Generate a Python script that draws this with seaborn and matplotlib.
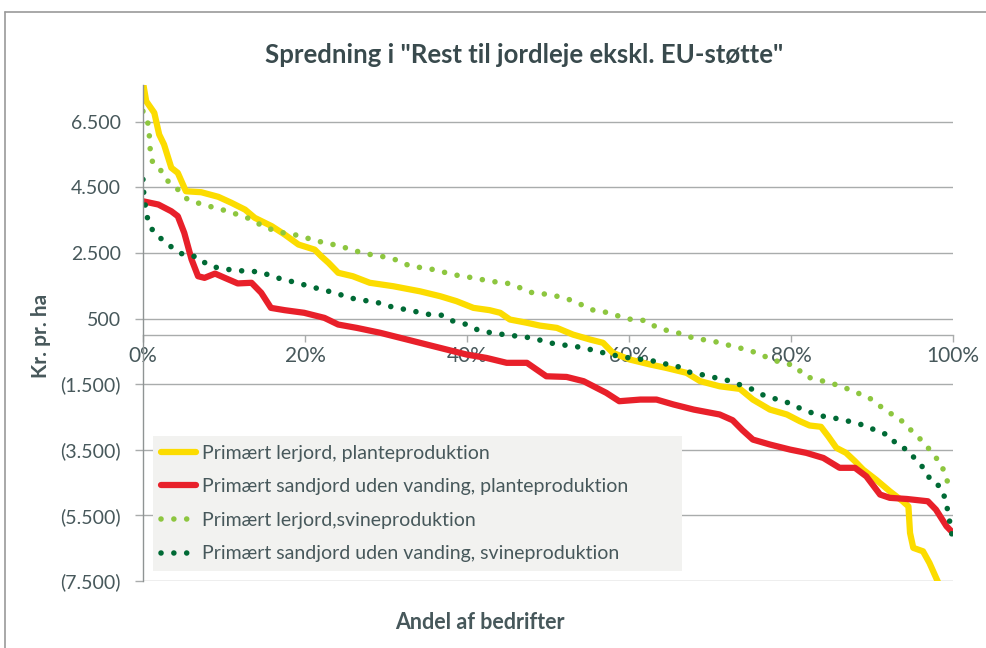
import matplotlib
matplotlib.use("Agg")
import matplotlib.pyplot as plt
import matplotlib.ticker as mticker
from matplotlib.lines import Line2D
import seaborn as sns

# values (x = share of farms in %, y = kr. pr. ha)
ler_plante_x = [0, 0.4, 1.4, 2.0, 2.6, 3.5, 4.3, 5.3, 7.2, 9.3, 10.9, 12.6, 13.8, 15.9, 17.5,
                19.2, 21.2, 22.0, 22.9, 24.1, 25.9, 28.0, 30.9, 32.6, 34.2, 36.7, 38.7, 40.8,
                42.8, 44.1, 45.3, 47.4, 49.0, 51.1, 53.1, 55.2, 56.8, 58.0, 60.1, 62.6, 64.6,
                67.1, 68.8, 71.2, 73.7, 75.3, 77.4, 79.5, 81.1, 82.3, 83.7, 84.6, 85.6, 86.8,
                87.9, 88.9, 90.5, 92.2, 93.8, 94.5, 94.7, 95.1, 96.3, 97.1, 98.2, 98.6]
ler_plante_y = [7700, 7125, 6770, 6110, 5805, 5095, 4940, 4380, 4350, 4210, 4030, 3820, 3570,
                3315, 3060, 2755, 2600, 2400, 2200, 1895, 1790, 1590, 1485, 1405, 1330, 1180,
                1030, 825, 755, 675, 470, 370, 285, 215, 10, -140, -240, -545, -750, -900,
                -1005, -1155, -1410, -1565, -1645, -1970, -2275, -2425, -2630, -2760, -2800,
                -3090, -3440, -3595, -3850, -4105, -4410, -4765, -5070, -5225, -6035, -6490,
                -6595, -6950, -7560, -7800]

sand_plante_x = [0, 1.9, 3.5, 4.3, 5.1, 6.0, 6.8, 7.6, 8.9, 10.1, 11.7, 13.4, 14.6, 15.8, 17.5,
                 19.9, 22.4, 24.1, 26.4, 29.3, 32.6, 35.0, 37.5, 40.0, 42.4, 44.9, 47.4, 48.6,
                 49.8, 52.3, 54.4, 57.2, 58.8, 61.4, 63.4, 65.5, 68.0, 71.2, 72.8, 74.0, 75.3,
                 77.4, 79.9, 81.9, 84.0, 86.0, 87.9, 89.3, 91.0, 92.2, 94.3, 96.9, 97.9, 99.2,
                 100]
sand_plante_y = [4075, 3975, 3770, 3620, 3110, 2300, 1790, 1740, 1870, 1740, 1570, 1590, 1285,
                 825, 755, 675, 520, 317, 215, 65, -140, -290, -445, -600, -700, -850, -850,
                 -1055, -1260, -1280, -1410, -1765, -2020, -1970, -1970, -2120, -2275, -2425,
                 -2600, -2900, -3190, -3340, -3495, -3595, -3750, -4050, -4050, -4310, -4865,
                 -4965, -5000, -5070, -5325, -5830, -6035]

ler_svin_x = [0, 0.6, 0.8, 0.9, 1.2, 2.3, 3.1, 4.3, 5.5, 7.0, 8.6, 10.1, 11.7, 13.2, 14.6, 16.1,
              17.7, 19.3, 20.8, 22.4, 24.1, 26.4, 28.1, 29.8, 31.4, 33.0, 34.6, 36.3, 37.9,
              39.4, 41.1, 42.8, 44.8, 46.3, 47.8, 49.4, 51.1, 52.6, 54.1, 55.6, 57.2, 58.8,
              60.3, 62.0, 63.4, 65.0, 66.5, 68.1, 69.7, 71.3, 72.9, 74.5, 76.1, 77.6, 79.0,
              80.5, 81.7, 83.2, 84.8, 86.4, 87.9, 89.4, 90.6, 91.8, 93.3, 94.4, 95.5, 96.6,
              97.5, 98.6, 99.0, 99.7, 100]
ler_svin_y = [6820, 6465, 6040, 5630, 5245, 4990, 4685, 4435, 4130, 4005, 3895, 3795, 3670,
              3540, 3345, 3190, 3090, 3030, 2910, 2810, 2725, 2550, 2450, 2380, 2280, 2095,
              2045, 1975, 1860, 1790, 1730, 1635, 1590, 1465, 1300, 1255, 1180, 1080, 925, 755,
              690, 570, 470, 440, 235, 115, 35, -110, -160, -240, -355, -445, -575, -750,
              -850, -935, -1260, -1360, -1460, -1580, -1745, -1870, -2090, -2325, -2530,
              -2800, -3070, -3320, -3645, -3920, -4310, -4645, -4700]

sand_svin_x = [0, 0.1, 0.3, 0.6, 1.3, 2.5, 3.8, 5.1, 6.8, 8.0, 9.6, 11.2, 12.9, 14.5, 16.1,
               17.7, 19.3, 20.8, 22.4, 24.0, 25.5, 27.1, 28.8, 30.4, 32.0, 33.6, 35.2, 36.9,
               38.3, 40.0, 41.4, 43.0, 44.6, 46.3, 48.0, 49.5, 51.2, 52.8, 54.4, 56.1, 57.7,
               59.3, 60.9, 62.6, 64.2, 65.8, 67.3, 68.9, 70.4, 72.1, 73.6, 75.1, 76.6, 78.1,
               79.7, 81.2, 82.8, 84.3, 86.0, 87.6, 89.1, 90.7, 92.2, 93.1, 94.6, 95.4, 96.5,
               97.3, 98.5, 99.1, 99.4, 99.7, 100]
sand_svin_y = [4740, 4310, 3925, 3500, 3130, 2880, 2625, 2430, 2380, 2125, 2025, 1975, 1940,
               1925, 1770, 1670, 1570, 1465, 1365, 1260, 1130, 1060, 1000, 875, 795, 715, 630,
               600, 420, 317, 145, 65, 10, -40, -90, -190, -295, -325, -395, -495, -600, -670,
               -730, -770, -870, -935, -1125, -1205, -1290, -1380, -1510, -1645, -1835, -1950,
               -2070, -2245, -2395, -2500, -2560, -2660, -2760, -2935, -3070, -3365, -3525,
               -3820, -4085, -4460, -4630, -5040, -5425, -5830, -6300]

labels = ["Primært lerjord, planteproduktion",
          "Primært sandjord uden vanding, planteproduktion",
          "Primært lerjord,svineproduktion",
          "Primært sandjord uden vanding, svineproduktion"]

y_ticks = [6500, 4500, 2500, 500, -1500, -3500, -5500, -7500]
x_ticks = [0, 20, 40, 60, 80, 100]

text_col = "#47585b"
grid_col = "#a9acac"

sns.set_style("white")
plt.rcParams["font.family"] = ["Lato", "DejaVu Sans"]

fig = plt.figure(figsize=(9.86, 6.48), dpi=100)
ax = fig.add_axes([0.145, 0.1034, 0.8215, 0.7655])

dotted = (0, (0.01, 2.3))
series = [
    (ler_plante_x, ler_plante_y, "#fcdc00", "-", 4.5),
    (sand_plante_x, sand_plante_y, "#e8202a", "-", 4.5),
    (ler_svin_x, ler_svin_y, "#8dc63f", dotted, 4.0),
    (sand_svin_x, sand_svin_y, "#006a35", dotted, 4.0),
]
for (xs, ys, col, ls, lw), lab in zip(series, labels):
    sns.lineplot(x=xs, y=ys, ax=ax, color=col, lw=lw, linestyle=ls, label=lab,
                 estimator=None, sort=False, solid_capstyle="round",
                 dash_capstyle="round", solid_joinstyle="round")

ax.set_xlim(0, 100)
ax.set_ylim(-7500, 7620)
ax.set_yticks(y_ticks)
ax.set_xticks(x_ticks)


def kr_fmt(v, pos):
    s = f"{abs(v):,.0f}".replace(",", ".")
    return f"({s})" if v < 0 else s


ax.yaxis.set_major_formatter(mticker.FuncFormatter(kr_fmt))
ax.xaxis.set_major_formatter(mticker.FuncFormatter(lambda v, p: f"{v:.0f}%"))

for s in ["top", "right"]:
    ax.spines[s].set_visible(False)
ax.spines["bottom"].set_position(("data", 0))
ax.spines["bottom"].set_color(grid_col)
ax.spines["left"].set_color("#8f9494")
ax.spines["bottom"].set_linewidth(1.0)
ax.spines["left"].set_linewidth(1.0)
ax.spines["bottom"].set_zorder(1)

ax.yaxis.grid(True, color=grid_col, lw=1.0)
ax.set_axisbelow(True)
ax.tick_params(axis="y", direction="out", length=6, width=1.0, color=grid_col,
               labelsize=14, labelcolor=text_col, pad=10, left=True)
ax.tick_params(axis="x", direction="out", length=5, width=1.0, color=grid_col,
               labelsize=15, labelcolor=text_col, pad=3, bottom=True)
ax.set_xlabel("")
ax.set_ylabel("")

leg = ax.legend(loc="lower left", bbox_to_anchor=(0.012, 0.02, 0.654, 0.28), mode="expand",
                borderaxespad=0, frameon=True, fontsize=14, handlelength=1.8,
                handletextpad=0.3, labelspacing=0.85, borderpad=0.45, fancybox=False)
leg.get_frame().set_facecolor("#f2f2f0")
leg.get_frame().set_edgecolor("none")
leg.get_frame().set_alpha(1)
for t in leg.get_texts():
    t.set_color(text_col)

fig.text(0.532, 0.915, "Spredning i \"Rest til jordleje ekskl. EU-støtte\"",
         ha="center", va="center", fontsize=18.5, fontweight="bold", color="#394a4d")
fig.text(0.042, 0.482, "Kr. pr. ha", rotation=90, ha="center", va="center",
         fontsize=15, fontweight="bold", color=text_col)
fig.text(0.487, 0.04, "Andel af bedrifter", ha="center", va="center",
         fontsize=15.5, fontweight="bold", color=text_col)

# outer frame (top and left edges visible)
fig.add_artist(Line2D([0.005, 1.0], [0.981, 0.981], color="#9a9a9a", lw=1.2))
fig.add_artist(Line2D([0.005, 0.005], [0.0, 0.981], color="#9a9a9a", lw=1.2))

plt.savefig("out.png", dpi=100)
